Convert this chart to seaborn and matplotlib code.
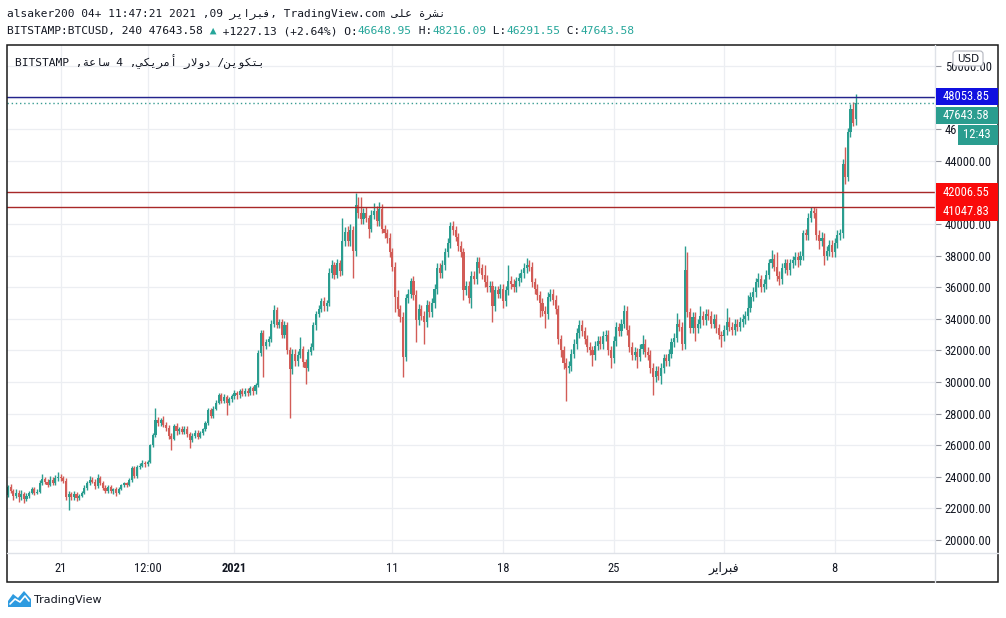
import matplotlib
matplotlib.use("Agg")
import matplotlib.pyplot as plt
import seaborn as sns
import numpy as np
import pandas as pd
from matplotlib.patches import Rectangle, FancyBboxPatch, Polygon
from matplotlib.lines import Line2D
from matplotlib.transforms import IdentityTransform, Bbox
from matplotlib import font_manager

# ---------------- data (BITSTAMP:BTCUSD, 4h candles) ----------------
START = "2020-12-17 16:00"
FIRST_OPEN = 22850

CLOSES = [
    23350, 23100,                                # Dec 17
    22800, 23000, 22700, 22900, 22600, 22800,    # Dec 18
    23000, 23200, 23000, 23050, 23600, 23850,    # Dec 19
    23700, 23500, 23800, 23600, 23900, 24000,    # Dec 20
    23900, 23750, 22700, 22900, 22700, 22900,    # Dec 21
    22650, 22800, 23000, 23300, 23600, 23800,    # Dec 22
    23700, 23400, 23900, 23600, 23300, 23100,    # Dec 23
    23350, 23100, 23200, 23000, 23250, 23450,    # Dec 24
    23600, 23500, 23800, 24550, 24050, 24600,    # Dec 25
    24700, 24900, 24800, 24950, 26000, 26650,    # Dec 26
    27600, 27400, 27600, 27300, 27100, 26600,    # Dec 27
    26400, 27200, 26900, 27000, 26850, 27050,    # Dec 28
    26700, 26350, 26600, 26800, 26550, 26750,    # Dec 29
    27000, 27400, 28200, 27850, 28300, 28700,    # Dec 30
    29150, 28800, 29050, 28700, 28900, 29100,    # Dec 31
    29300, 29150, 29400, 29250, 29450, 29300,    # Jan 1
    29600, 29400, 29800, 31850, 33100, 32300,    # Jan 2
    32500, 32700, 33700, 34550, 33600, 33800,    # Jan 3
    33000, 33600, 32000, 30800, 31800, 31300,    # Jan 4
    31700, 32100, 31250, 30900, 31900, 32200,    # Jan 5
    33600, 34300, 34600, 35100, 34800, 35000,    # Jan 6
    36900, 37400, 36800, 37500, 37000, 38900,    # Jan 7
    39500, 38900, 39600, 38300, 41200, 40700,    # Jan 8
    40300, 40700, 40400, 39700, 40600, 40850,    # Jan 9
    40200, 40950, 39700, 39400, 39100, 38200,    # Jan 10
    37300, 35400, 34600, 34100, 31600, 35300,    # Jan 11
    35600, 36400, 35500, 33900, 34600, 34200,    # Jan 12
    33800, 34900, 34400, 35000, 35900, 37200,    # Jan 13
    36900, 37400, 38200, 38800, 39900, 39600,    # Jan 14
    39200, 38600, 38200, 35800, 36100, 35300,    # Jan 15
    36700, 36500, 37600, 37200, 36800, 36300,    # Jan 16
    36000, 36100, 34800, 35800, 35600, 35900,    # Jan 17
    35100, 35800, 36400, 36200, 36000, 36400,    # Jan 18
    36600, 36900, 37200, 37400, 37300, 36300,    # Jan 19
    35900, 35500, 35000, 34500, 34300, 35400,    # Jan 20
    35600, 35200, 34600, 32700, 32000, 31200,    # Jan 21
    30900, 31000, 31800, 32400, 33100, 33600,    # Jan 22
    33200, 32700, 32200, 32000, 31700, 32300,    # Jan 23
    32600, 32400, 32900, 33000, 32000, 31500,    # Jan 24
    32600, 33500, 33200, 33700, 34500, 33300,    # Jan 25
    32200, 31700, 31900, 31600, 32100, 32400,    # Jan 26
    31900, 31700, 30900, 30300, 30700, 30400,    # Jan 27
    30900, 31500, 31300, 31800, 32500, 32800,    # Jan 28
    33700, 33500, 32400, 37100, 34400, 33400,    # Jan 29
    34100, 33400, 33700, 34200, 33900, 34300,    # Jan 30
    34200, 33700, 34000, 33400, 33000, 32900,    # Jan 31
    33300, 33800, 33500, 33300, 33700, 33500,    # Feb 1
    33800, 34000, 34200, 34700, 35400, 35700,    # Feb 2
    36300, 36500, 36000, 36200, 36800, 37500,    # Feb 3
    37800, 37300, 36700, 36500, 37200, 37500,    # Feb 4
    37100, 37500, 37700, 37900, 37700, 38000,    # Feb 5
    39400, 39300, 40400, 40800, 40700, 39300,    # Feb 6
    38900, 39100, 38000, 38300, 38700, 38200,    # Feb 7
    38800, 39300, 39400, 43800, 43000, 45800,    # Feb 8
    47300, 46416.45, 47643.58,                   # Feb 9
]

UP_WICKS = [
    150, 200,
    150, 200, 150, 250, 150, 150,
    100, 150, 150, 150, 200, 350,
    150, 150, 250, 200, 200, 300,
    200, 150, 150, 200, 150, 200,
    150, 100, 100, 150, 150, 250,
    200, 150, 250, 150, 150, 150,
    150, 150, 100, 150, 100, 100,
    100, 100, 100, 150, 150, 150,
    150, 150, 100, 100, 100, 150,
    750, 200, 150, 250, 150, 150,
    150, 150, 200, 150, 200, 150,
    150, 150, 200, 150, 150, 150,
    100, 100, 150, 150, 150, 150,
    150, 150, 200, 150, 150, 150,
    200, 150, 150, 200, 150, 150,
    150, 150, 150, 150, 200, 200,
    200, 200, 200, 350, 200, 200,
    200, 250, 200, 200, 300, 300,
    250, 750, 200, 200, 200, 250,
    200, 200, 250, 200, 250, 200,
    300, 300, 200, 300, 200, 1500,
    300, 350, 400, 300, 750, 500,
    1000, 300, 350, 200, 300, 500,
    300, 450, 300, 250, 300, 300,
    300, 300, 400, 300, 300, 300,
    300, 200, 300, 300, 350, 300,
    300, 300, 250, 300, 300, 300,
    300, 300, 300, 300, 250, 300,
    300, 250, 300, 300, 300, 300,
    300, 300, 300, 300, 250, 600,
    500, 300, 300, 300, 250, 300,
    300, 300, 1000, 300, 300, 250,
    300, 250, 300, 450, 300, 300,
    300, 300, 250, 300, 300, 300,
    300, 300, 300, 300, 250, 300,
    300, 300, 300, 300, 300, 300,
    300, 250, 300, 300, 300, 300,
    300, 300, 300, 300, 300, 300,
    300, 300, 250, 300, 400, 300,
    300, 300, 300, 250, 300, 600,
    300, 300, 300, 300, 300, 300,
    300, 300, 250, 300, 300, 300,
    650, 300, 300, 1500, 1100, 300,
    300, 300, 300, 600, 300, 300,
    300, 300, 300, 300, 300, 250,
    300, 900, 300, 300, 300, 300,
    300, 300, 300, 800, 300, 300,
    300, 400, 300, 300, 300, 300,
    550, 300, 950, 300, 300, 300,
    300, 300, 250, 300, 300, 300,
    200, 300, 300, 300, 300, 300,
    300, 400, 300, 300, 300, 300,
    300, 300, 300, 300, 1100, 300,
    300, 400, 572.51,
]

DOWN_WICKS = [
    150, 100,
    250, 150, 300, 200, 250, 150,
    150, 100, 150, 100, 100, 150,
    150, 150, 100, 150, 100, 150,
    150, 150, 150, 800, 150, 150,
    200, 150, 100, 100, 150, 100,
    100, 200, 100, 100, 150, 150,
    150, 150, 200, 200, 100, 100,
    100, 150, 100, 100, 100, 100,
    100, 100, 150, 100, 100, 100,
    100, 200, 200, 150, 200, 200,
    700, 100, 250, 200, 150, 150,
    150, 550, 150, 150, 150, 100,
    100, 100, 100, 100, 100, 100,
    100, 150, 150, 800, 150, 150,
    150, 200, 150, 150, 150, 200,
    150, 200, 150, 100, 200, 2000,
    200, 200, 150, 200, 200, 200,
    200, 200, 200, 3100, 300, 300,
    300, 200, 300, 1000, 200, 200,
    200, 300, 200, 200, 300, 300,
    200, 300, 300, 200, 300, 200,
    300, 300, 300, 1700, 300, 300,
    300, 300, 300, 600, 200, 300,
    300, 300, 300, 300, 300, 300,
    300, 1000, 400, 300, 1300, 300,
    300, 300, 300, 1400, 300, 300,
    1400, 300, 300, 300, 300, 300,
    300, 300, 300, 300, 300, 300,
    300, 300, 300, 600, 300, 300,
    600, 300, 300, 300, 300, 300,
    300, 300, 1000, 300, 300, 300,
    400, 300, 300, 300, 300, 300,
    300, 300, 300, 300, 300, 300,
    300, 300, 900, 300, 900, 300,
    300, 300, 300, 300, 400, 400,
    2100, 300, 300, 300, 300, 300,
    300, 300, 300, 300, 700, 300,
    300, 300, 300, 300, 300, 600,
    300, 300, 300, 300, 300, 300,
    300, 300, 300, 700, 300, 300,
    300, 300, 300, 1100, 300, 300,
    500, 300, 300, 300, 300, 300,
    300, 300, 400, 300, 300, 300,
    300, 800, 300, 300, 300, 300,
    300, 300, 300, 300, 300, 700,
    300, 300, 300, 300, 300, 300,
    300, 300, 300, 300, 300, 300,
    300, 300, 300, 300, 300, 300,
    300, 300, 300, 350, 300, 300,
    300, 300, 300, 300, 400, 300,
    300, 300, 300, 300, 300, 300,
    500, 300, 600, 300, 300, 300,
    300, 300, 300, 300, 500, 300,
    300, 200, 357.4,
]

# last candle (header values)
SYMBOL = "BITSTAMP:BTCUSD"
INTERVAL = "240"
LAST_OPEN = 46648.95
LAST_HIGH = 48216.09
LAST_LOW = 46291.55
LAST_CLOSE = 47643.58
CHANGE = 1227.13
CHANGE_PCT = 2.64
COUNTDOWN = "12:43"

# horizontal levels drawn on chart
LEVEL_TOP = 48053.85
RESIST_1 = 42006.55
RESIST_2 = 41047.83

# axes
YTICKS = list(range(20000, 50001, 2000))
HIDDEN_YTICKS = [48000]          # fully covered by the price-label boxes in the original
FEB_AR = "\uFEAE\uFEF3\uFE8D\uFEAE\uFE92\uFED3"          # فبراير (shaped, visual order)
TICK_DATES = ["2020-12-21 00:00", "2020-12-26 12:00", "2021-01-01 00:00", "2021-01-11 00:00",
              "2021-01-18 00:00", "2021-01-25 00:00", "2021-02-01 00:00", "2021-02-08 00:00"]
TICK_LABELS = ["21", "12:00", "2021", "11", "18", "25", FEB_AR, "8"]

# Arabic words (presentation forms, visual order)
NASHRA = "\uFE93\uFEAE\uFEB8\uFEE7"                      # نشرة
ALA = "\uFEF0\uFEE0\uFECB"                                # على
SAA = "\uFE94\uFECB\uFE8E\uFEB3"                          # ساعة
AMRIKI = "\uFEF2\uFEDC\uFEF3\uFEAE\uFEE3\uFE83"          # أمريكي
DOLAR = "\uFEAD\uFEFB\uFEED\uFEA9"                        # دولار
BITCOIN = "\uFEE6\uFEF3\uFEEE\uFEDC\uFE98\uFE91"         # بتكوين

HEADER_1 = "alsaker200 04+ 11:47:21 2021 ,09 " + FEB_AR + ", TradingView.com " + ALA + " " + NASHRA
TITLE = "BITSTAMP ," + SAA + " 4 ," + AMRIKI + " " + DOLAR + " /" + BITCOIN

UP_COLOR = "#2a9d8f"
DOWN_COLOR = "#d25c57"
TEXT = "#131722"

# ---------------- build ----------------
assert len(CLOSES) == len(UP_WICKS) == len(DOWN_WICKS), (len(CLOSES), len(UP_WICKS), len(DOWN_WICKS))

sns.set_theme(style="white")
plt.rcParams["font.family"] = ["DejaVu Sans", "Noto Sans"]

names = {f.name for f in font_manager.fontManager.ttflist}
AX_FONT, AX_SIZE = "DejaVu Sans", 7.5
for cand in ["Liberation Sans Narrow", "Roboto Condensed", "Open Sans Condensed"]:
    if cand in names:
        AX_FONT, AX_SIZE = cand, 9
        break

n = len(CLOSES)
closes = np.array(CLOSES, float)
opens = np.array([FIRST_OPEN] + CLOSES[:-1], float)
opens[-1] = LAST_OPEN
highs = np.maximum(opens, closes) + np.array(UP_WICKS, float)
lows = np.minimum(opens, closes) - np.array(DOWN_WICKS, float)
times = pd.date_range(START, periods=n, freq="4h")
df = pd.DataFrame({"time": times, "open": opens, "high": highs, "low": lows, "close": closes})
df["idx"] = np.arange(n)
df["dir"] = np.where(df["close"] >= df["open"], "up", "down")

W, H = 1006, 618
fig = plt.figure(figsize=(W / 100, H / 100), dpi=100, facecolor="white")
PIX = IdentityTransform()


def T(y):  # pixel-from-top -> display y
    return H - y


ax = fig.add_axes([7 / W, 1 - 553 / H, 928 / W, 508 / H])
ax.set_facecolor("white")
ax.set_xlim(-0.4, 352.1)
ax.set_ylim(19177, 51329)

colors = np.where(df["dir"] == "up", UP_COLOR, DOWN_COLOR)
ax.vlines(df["idx"], df["low"], df["high"], colors=colors, lw=1.0, zorder=3)
body_lo = np.minimum(df["open"], df["close"])
body_h = np.maximum(np.abs(df["close"] - df["open"]), 50)
ax.bar(df["idx"], body_h, bottom=body_lo, width=0.8, color=colors, linewidth=0, zorder=3.5)

# grid / ticks
xt = [int(np.where(times == pd.Timestamp(d))[0][0]) for d in TICK_DATES]
ax.set_xticks(xt)
ax.set_xticklabels(TICK_LABELS)
ax.set_yticks(YTICKS)
ax.set_yticklabels(["" if v in HIDDEN_YTICKS else f"{v:.2f}" for v in YTICKS])
ax.yaxis.tick_right()
ax.tick_params(axis="y", right=True, left=False, length=4, width=0.8, color="#9598a1",
               pad=3, labelsize=AX_SIZE, labelcolor=TEXT)
ax.tick_params(axis="x", bottom=True, length=0, pad=6.5, labelsize=AX_SIZE, labelcolor=TEXT)
for lab in ax.get_yticklabels():
    lab.set_family([AX_FONT, "DejaVu Sans"])
for lab in ax.get_xticklabels():
    lab.set_family([AX_FONT, "DejaVu Sans"])
    if lab.get_text() == "2021":
        lab.set_fontweight("bold")
ax.grid(True, color="#eceef2", lw=0.9)
ax.set_axisbelow(True)
for s in ax.spines.values():
    s.set_visible(False)

# level lines
ax.axhline(LEVEL_TOP, color="#23238c", lw=1.0, zorder=4)
ax.axhline(RESIST_1, color="#a82828", lw=1.0, zorder=4)
ax.axhline(RESIST_2, color="#a82828", lw=1.0, zorder=4)
ax.axhline(LAST_CLOSE, color="#3a9d93", lw=1.0, ls=(0, (1, 2)), zorder=4)

# frame and separators
fig.add_artist(Line2D([935, 935], [T(45), T(582)], transform=PIX, color="#dfe2e8", lw=1))
fig.add_artist(Line2D([7, 998], [T(553), T(553)], transform=PIX, color="#dfe2e8", lw=1))
fig.add_artist(Rectangle((7, T(582)), 991, 537, transform=PIX, fill=False,
                         edgecolor="#1a1a1a", lw=1.1))


def ydisp(price):
    return ax.transData.transform((0, price))[1]


def box(x0, x1, yc, h, color, text, tx=943):
    fig.add_artist(Rectangle((x0, yc - h / 2), x1 - x0, h, transform=PIX,
                             facecolor=color, edgecolor="none", zorder=5))
    fig.text(tx, yc, text, transform=PIX, color="white", fontsize=AX_SIZE,
             family=[AX_FONT, "DejaVu Sans"], va="center", ha="left", zorder=6)


yb = ydisp(LEVEL_TOP)
box(936, 998, yb, 17, "#1010e0", f"{LEVEL_TOP:.2f}")
box(936, 998, yb - 18.5, 17, UP_COLOR, f"{LAST_CLOSE:.2f}")
box(958, 998, yb - 38, 20, UP_COLOR, COUNTDOWN, tx=963)
yr = ydisp(RESIST_1)
box(936, 998, yr, 19, "#fa0a0a", f"{RESIST_1:.2f}")
box(936, 998, yr - 19, 19, "#fa0a0a", f"{RESIST_2:.2f}")

# the 46000 label is cut by the countdown box: clip it at the box edge
for lab in ax.get_yticklabels():
    if lab.get_text() == "46000.00":
        lab.set_clip_box(Bbox.from_extents(930, 0, 957, H))
        lab.set_clip_on(True)

# USD badge
fig.add_artist(FancyBboxPatch((953, T(66)), 30, 15, boxstyle="round,pad=0,rounding_size=3",
                              transform=PIX, facecolor="white", edgecolor="#b2b5be", lw=0.8, zorder=5))
fig.text(968, T(58.5), "USD", transform=PIX, ha="center", va="center", fontsize=7.5,
         color=TEXT, zorder=6)

# header texts
MONO = ["DejaVu Sans Mono", "DejaVu Sans"]
fig.text(7, T(14), HEADER_1, transform=PIX, va="center", ha="left", fontsize=8,
         family=MONO, color=TEXT)

renderer = fig.canvas.get_renderer()
TEAL = "#26a69a"
frags = [
    (f"{SYMBOL}, {INTERVAL} {LAST_CLOSE:.2f}", TEXT),
    (" \u25B2", TEAL),
    (f" +{CHANGE:.2f} (+{CHANGE_PCT:.2f}%) O:", TEXT),
    (f"{LAST_OPEN:.2f}", TEAL),
    (" H:", TEXT),
    (f"{LAST_HIGH:.2f}", TEAL),
    (" L:", TEXT),
    (f"{LAST_LOW:.2f}", TEAL),
    (" C:", TEXT),
    (f"{LAST_CLOSE:.2f}", TEAL),
]
x = 7
for s, c in frags:
    t = fig.text(x, T(31), s, transform=PIX, va="center", ha="left", fontsize=8.1,
                 family=MONO, color=c)
    x += t.get_window_extent(renderer).width

fig.text(15, T(62), TITLE, transform=PIX, va="center", ha="left", fontsize=8.1,
         family=MONO, color=TEXT)

# TradingView logo
fig.add_artist(Polygon([(8, T(607)), (8, T(601)), (13, T(594)), (18, T(598)), (24, T(591)),
                        (31, T(599)), (31, T(607))], closed=True, transform=PIX,
                       facecolor="#2e9be0", edgecolor="none"))
fig.add_artist(Line2D([10, 15, 20, 25, 29], [T(604), T(599), T(602), T(596), T(601)],
                      transform=PIX, color="white", lw=1.2))
fig.text(34, T(600), "TradingView", transform=PIX, va="center", ha="left", fontsize=8,
         color=TEXT)

fig.savefig("out.png", dpi=100, facecolor="white")
